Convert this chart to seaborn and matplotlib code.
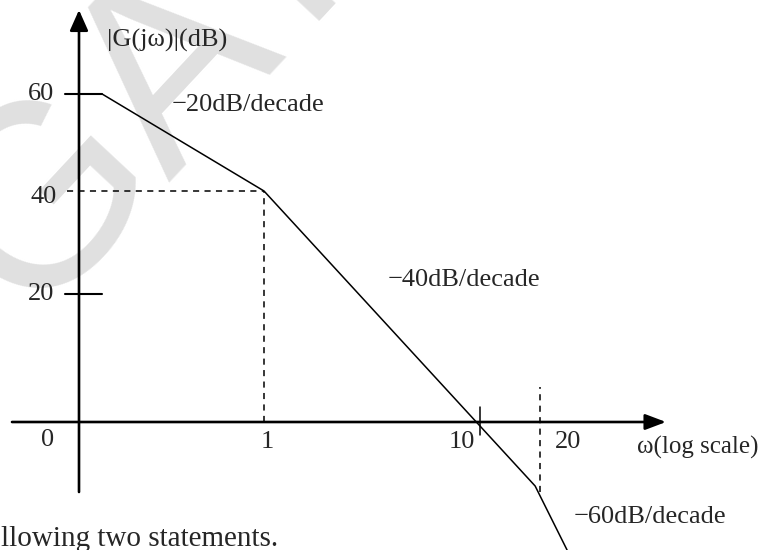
import numpy as np
import matplotlib
matplotlib.use("Agg")
import matplotlib.pyplot as plt
import seaborn as sns

# asymptotic Bode magnitude
omega = [0.178, 1, 18, 25.3]
gain_db = [60, 40, -10, -20]

y_ticks = [20, 40, 60]
dashed_40 = 40
dashed_freqs = [1, 19]
tick_10 = 10
x_labels = ["1", "10", "20"]

# the drawing is schematic: dB spacing is not uniform, so map it piecewise
db_pts = np.array([-40, 0, 20, 40, 60, 100])
px_pts = np.array([-256, 0, 128, 231, 328, 522])


def fwd(y):
    return np.interp(y, db_pts, px_pts)


def inv(p):
    return np.interp(p, px_pts, db_pts)


W, H = 761, 550
sns.set_style("white")
plt.rcParams["font.family"] = ["Liberation Serif", "DejaVu Serif"]

fig = plt.figure(figsize=(W / 100, H / 100), dpi=100)
ax = fig.add_axes([0, 0, 1, 1])
ax.set_xscale("log")
ax.set_yscale("function", functions=(fwd, inv))

# 1 -> 264 px, 10 -> 480 px
x0, dec = 264, 216
ax.set_xlim(10 ** (-x0 / dec), 10 ** ((W - x0) / dec))
ax.set_ylim(inv(422 - H), inv(422))
ax.axis("off")


def px2w(px):
    return 10 ** ((px - x0) / dec)


def py2db(py):
    return inv(422 - py)


# watermark, behind everything
ax.text(28 / W, 1 - 320 / H, "GATE", fontsize=187, color="#e0e0e0",
        family="Liberation Sans", rotation=47, rotation_mode="anchor",
        ha="left", va="baseline", transform=fig.transFigure, zorder=0,
        clip_on=False)

w_axis = px2w(79)

# axes with arrows
ax.annotate("", xy=(w_axis, py2db(10)), xytext=(w_axis, py2db(492)),
            arrowprops=dict(arrowstyle="-|>,head_length=0.45,head_width=0.2",
                            mutation_scale=28, lw=1.9, color="black",
                            shrinkA=0, shrinkB=0), zorder=3)
ax.annotate("", xy=(px2w(666), 0), xytext=(px2w(12), 0),
            arrowprops=dict(arrowstyle="-|>,head_length=0.45,head_width=0.17",
                            mutation_scale=28, lw=1.9, color="black",
                            shrinkA=0, shrinkB=0), zorder=3)

# y ticks
for t in y_ticks:
    if t == dashed_40:
        continue
    ax.plot([px2w(65), px2w(102)], [t, t], color="black", lw=1.5, zorder=3)
    ax.text(px2w(41), t, str(t), fontsize=19, ha="center", va="center", zorder=3)
ax.text(px2w(44), 38.8, "40", fontsize=19, ha="center", va="center", zorder=3)

# dashed guides
dash = (0, (4, 3.5))
ax.plot([px2w(67), dashed_freqs[0]], [dashed_40, dashed_40], color="black",
        lw=1.1, ls=dash, zorder=3)
ax.plot([dashed_freqs[0], dashed_freqs[0]], [0, dashed_40], color="black",
        lw=1.1, ls=dash, zorder=3)
ax.plot([dashed_freqs[1], dashed_freqs[1]], [py2db(492), py2db(387)],
        color="black", lw=1.1, ls=dash, zorder=3)

# tick at 10
ax.plot([tick_10, tick_10], [py2db(435), py2db(407)], color="black", lw=1.1,
        zorder=3)

# curve
sns.lineplot(x=omega, y=gain_db, color="black", lw=1.1, estimator=None,
             sort=False, ax=ax, zorder=3)

for lab, px in zip(x_labels, [267, 462, 568]):
    ax.text(px2w(px), py2db(442), lab, fontsize=19, ha="center", va="center",
            zorder=3)
ax.text(px2w(48), py2db(440), "0", fontsize=19, ha="center", va="center",
        zorder=3)

txt = dict(fontsize=19, ha="left", va="center", zorder=3)
fig.text(107 / W, 1 - 40 / H, "|G(jω)|(dB)", **txt)
fig.text(172 / W, 1 - 105 / H, "−20dB/decade", **txt)
fig.text(388 / W, 1 - 280 / H, "−40dB/decade", **txt)
fig.text(574 / W, 1 - 517 / H, "−60dB/decade", **txt)
fig.text(637 / W, 1 - 447 / H, "ω(log scale)", **dict(txt, fontsize=18))
fig.text(1 / W, 1 - 546 / H, "llowing two statements.", fontsize=21,
         ha="left", va="baseline")

fig.savefig("out.png", dpi=100)
